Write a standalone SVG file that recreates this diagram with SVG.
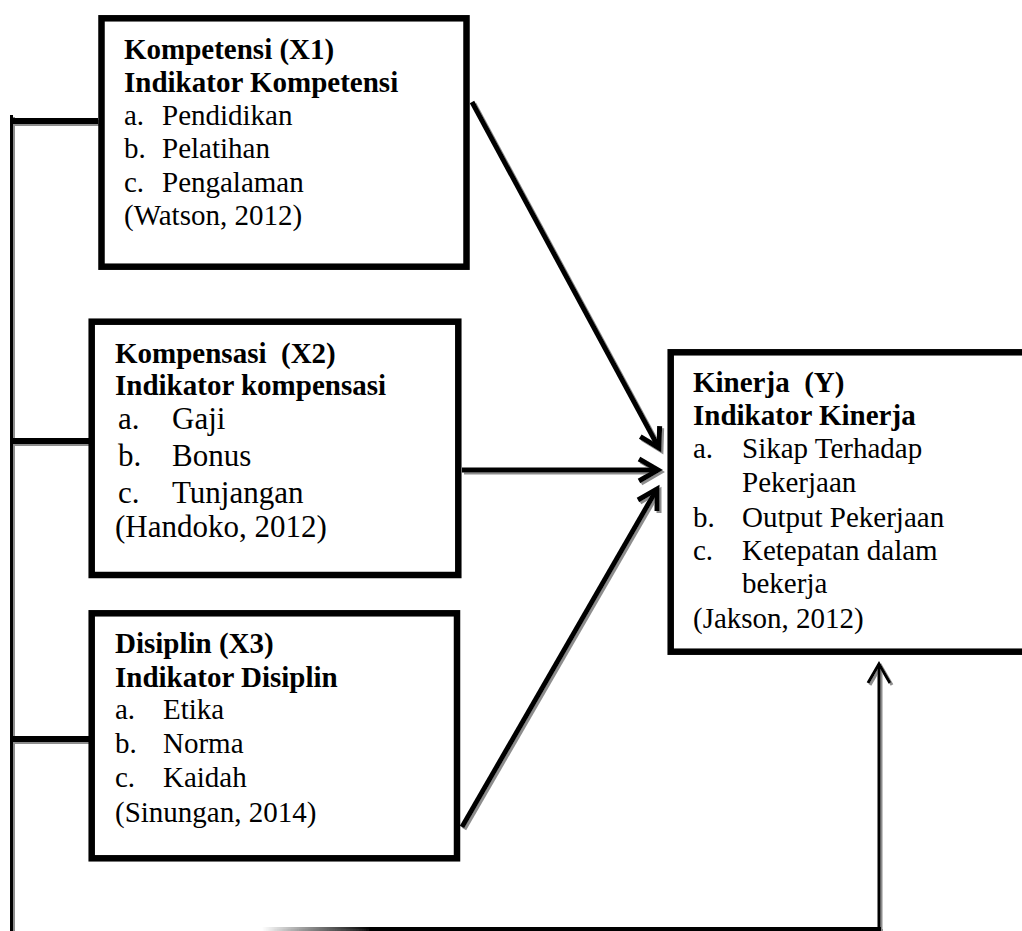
<svg xmlns="http://www.w3.org/2000/svg" width="1022" height="931" viewBox="0 0 1022 931">
<style>
  .box { fill: #fff; stroke: #000; stroke-width: 6.5; }
  text { font-family: "Liberation Serif", "Times New Roman", serif; font-size: 29px; fill: #000; white-space: pre; }
  .b { font-weight: bold; }
  .big { font-size: 31px; }
  .ln { stroke: #000; fill: none; stroke-linecap: butt; }
  .stub { stroke-width: 6; }
  .arr { stroke-width: 5; }
</style>
<defs>
  <marker id="head" markerUnits="userSpaceOnUse" markerWidth="40" markerHeight="40" refX="0" refY="0" viewBox="-30 -20 40 40" orient="auto" overflow="visible">
    <path d="M-19,-11 L0,0 L-19,11" fill="none" stroke="#000" stroke-width="5" stroke-linejoin="miter"/>
  </marker>
  <marker id="headThin" markerUnits="userSpaceOnUse" markerWidth="40" markerHeight="40" refX="0" refY="0" viewBox="-30 -20 40 40" orient="auto" overflow="visible">
    <path d="M-19,-11 L0,0 L-19,11" fill="none" stroke="#000" stroke-width="3"/>
  </marker>
  <filter id="shadow" x="-5%" y="-5%" width="110%" height="110%">
    <feDropShadow dx="2" dy="2" stdDeviation="0.6" flood-color="#808080" flood-opacity="0.9"/>
  </filter>
  <linearGradient id="fade" gradientUnits="userSpaceOnUse" x1="262" y1="0" x2="370" y2="0">
    <stop offset="0" stop-color="#000" stop-opacity="0"/>
    <stop offset="1" stop-color="#000" stop-opacity="1"/>
  </linearGradient>
</defs>

<g id="connectors" filter="url(#shadow)">
  <line class="ln" x1="11.5" y1="115" x2="11.5" y2="931" stroke-width="3"/>
  <line class="ln stub" x1="10" y1="121" x2="98" y2="121"/>
  <line class="ln stub" x1="10" y1="441" x2="89" y2="441"/>
  <line class="ln stub" x1="10" y1="739" x2="89" y2="739"/>
  <line class="ln arr" x1="472" y1="102" x2="659" y2="448" marker-end="url(#head)"/>
  <line class="ln arr" x1="462" y1="470" x2="658" y2="470" marker-end="url(#head)"/>
  <line class="ln arr" x1="462" y1="827" x2="657" y2="489" marker-end="url(#head)"/>
  <line x1="262" y1="929" x2="370" y2="929" stroke="url(#fade)" stroke-width="4"/>
  <line class="ln" x1="369" y1="929" x2="881" y2="929" stroke-width="4"/>
  <line class="ln" x1="879" y1="931" x2="879" y2="664" stroke-width="3" marker-end="url(#headThin)"/>
</g>

<g id="node-kompetensi">
  <rect class="box" x="101.5" y="18.3" width="365" height="248.4"/>
  <text class="b" x="124" y="59">Kompetensi (X1)</text>
  <text class="b" x="124" y="92">Indikator Kompetensi</text>
  <text x="124" y="125">a.</text><text x="162" y="125">Pendidikan</text>
  <text x="124" y="158">b.</text><text x="162" y="158">Pelatihan</text>
  <text x="124" y="192">c.</text><text x="162" y="192">Pengalaman</text>
  <text x="124" y="225">(Watson, 2012)</text>
</g>

<g id="node-kompensasi">
  <rect class="box" x="91.7" y="321.7" width="366.6" height="253.3"/>
  <text class="b" x="115" y="363">Kompensasi  (X2)</text>
  <text class="b" x="115" y="395">Indikator kompensasi</text>
  <text class="big" x="118" y="429">a.</text><text class="big" x="172" y="429">Gaji</text>
  <text class="big" x="118" y="466">b.</text><text class="big" x="172" y="466">Bonus</text>
  <text class="big" x="118" y="503">c.</text><text class="big" x="172" y="503">Tunjangan</text>
  <text class="big" x="115" y="537">(Handoko, 2012)</text>
</g>

<g id="node-disiplin">
  <rect class="box" x="91.7" y="613.3" width="365.3" height="245"/>
  <text class="b" x="115" y="653">Disiplin (X3)</text>
  <text class="b" x="115" y="687">Indikator Disiplin</text>
  <text x="115" y="719">a.</text><text x="163" y="719">Etika</text>
  <text x="115" y="753">b.</text><text x="163" y="753">Norma</text>
  <text x="115" y="787">c.</text><text x="163" y="787">Kaidah</text>
  <text x="115" y="822">(Sinungan, 2014)</text>
</g>

<g id="node-kinerja">
  <rect class="box" x="670.7" y="352.3" width="370" height="299.4"/>
  <text class="b" x="693" y="392">Kinerja  (Y)</text>
  <text class="b" x="693" y="425">Indikator Kinerja</text>
  <text x="693" y="458">a.</text><text x="742" y="458">Sikap Terhadap</text>
  <text x="742" y="492">Pekerjaan</text>
  <text x="693" y="527">b.</text><text x="742" y="527">Output Pekerjaan</text>
  <text x="693" y="560">c.</text><text x="742" y="560">Ketepatan dalam</text>
  <text x="742" y="593">bekerja</text>
  <text x="693" y="628">(Jakson, 2012)</text>
</g>
</svg>
